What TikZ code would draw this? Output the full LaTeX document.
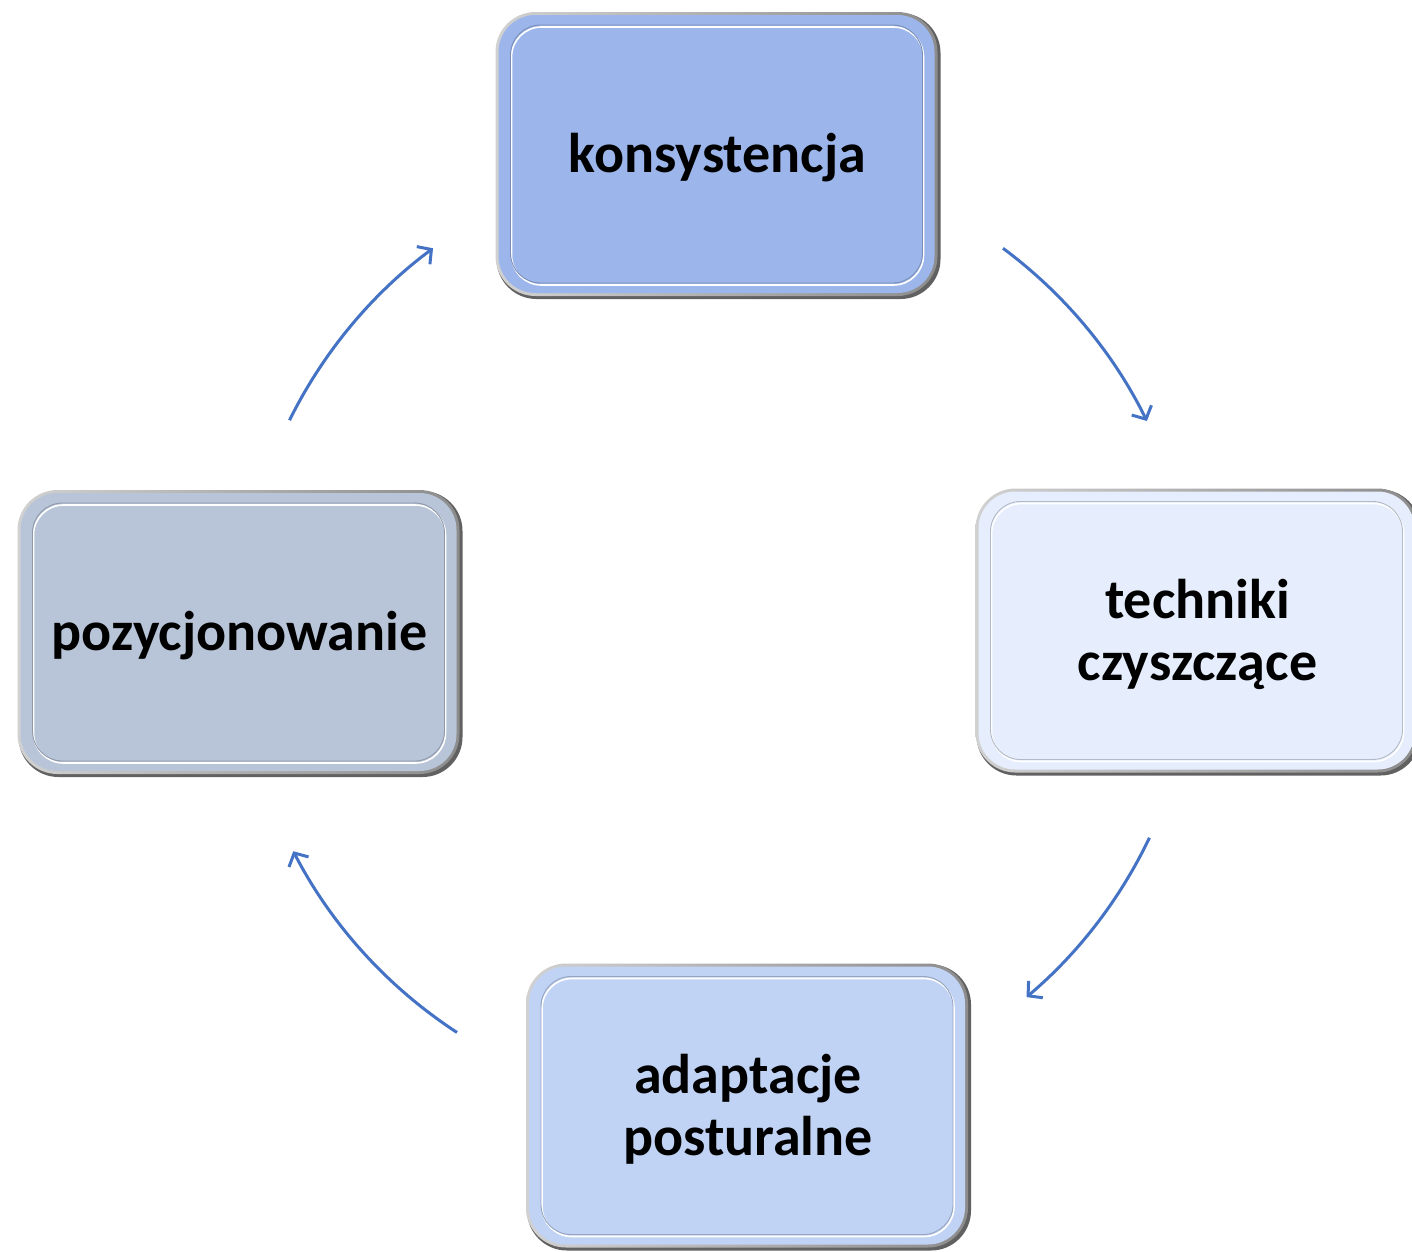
\documentclass[tikz,border=0pt]{standalone}
\usepackage{fontspec}
\setmainfont{Carlito}
\usetikzlibrary{arrows.meta}
\definecolor{arrc}{HTML}{4472C4}
\definecolor{ctop}{HTML}{9CB6EB}
\definecolor{cright}{HTML}{E6EEFD}
\definecolor{cbottom}{HTML}{C1D3F4}
\definecolor{cleft}{HTML}{B8C4D8}
\tikzset{
  boxtext/.style={align=center, inner sep=0pt, font=\fontsize{56}{62}\selectfont\bfseries, text=black},
  arr/.style={draw=arrc, line width=3pt, -{Straight Barb[length=10pt, width=22pt]}},
}
\newcommand\cycbox[5]{%
  \fill[black!62, rounded corners=40pt] ({#2-221},{#3-142}) rectangle ({#2+223},{#3+144});
  \shade[rounded corners=40pt, left color=black!18, right color=black!45] ({#2-222},{#3-143}) rectangle ({#2+220},{#3+141});
  \fill[#4, rounded corners=37pt] ({#2-219},{#3-140}) rectangle ({#2+217},{#3+138});
  \draw[white, line width=1.6pt, rounded corners=30pt] ({#2-206},{#3-128}) rectangle ({#2+206},{#3+130});
  \draw[#4!78!black, line width=0.9pt, rounded corners=30pt] ({#2-207},{#3-130}) rectangle ({#2+205},{#3+128});
  \node[boxtext] (#1) at (#2,{#3+3}) {#5};
}
\begin{document}
\begin{tikzpicture}[x=1pt,y=-1pt]
\useasboundingbox (0,0) rectangle (1412,1251);
\fill[white] (0,0) rectangle (1412,1251);
\cycbox{kons}{717.5}{155}{ctop}{konsystencja}
\cycbox{tech}{1197.5}{631.5}{cright}{techniki\\czyszczące}
\cycbox{adap}{748}{1106.5}{cbottom}{adaptacje\\posturalne}
\cycbox{pozy}{239.5}{633}{cleft}{pozycjonowanie}
\coordinate (ctr) at (718,632);
\coordinate (a1) at ([shift={(-53.4:478)}]ctr);
\coordinate (a2) at ([shift={(25.5:478)}]ctr);
\coordinate (a3) at ([shift={(123.1:478)}]ctr);
\coordinate (a4) at ([shift={(206.3:478)}]ctr);
\draw[arr] (a1) arc[start angle=-53.4, end angle=-26.2, radius=478];
\draw[arr] (a2) arc[start angle=25.5, end angle=49.8, radius=478];
\draw[arr] (a3) arc[start angle=123.1, end angle=152.7, radius=478];
\draw[arr] (a4) arc[start angle=206.3, end angle=233.4, radius=478];
\end{tikzpicture}
\end{document}
